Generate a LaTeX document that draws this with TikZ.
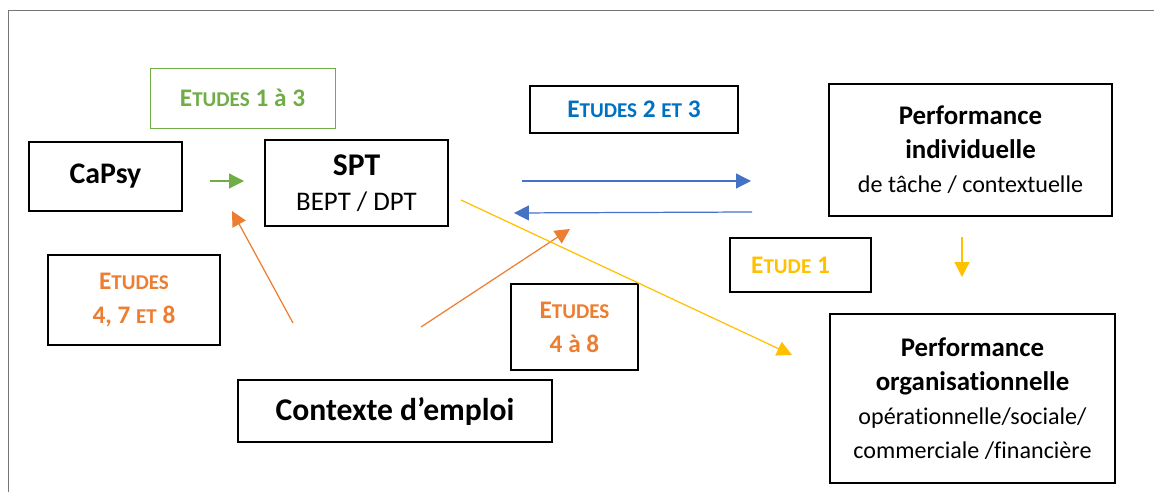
\documentclass[tikz,border=0pt]{standalone}
\usepackage{fontspec}
\setmainfont{Carlito}[Ligatures=NoCommon]
\usetikzlibrary{arrows.meta}
\definecolor{etgreen}{RGB}{112,173,71}
\definecolor{etblue}{RGB}{0,112,192}
\definecolor{arblue}{RGB}{68,114,196}
\definecolor{etorange}{RGB}{237,125,49}
\definecolor{etyellow}{RGB}{255,192,0}
\definecolor{framegray}{RGB}{118,118,118}
\newcommand{\titlefont}{\fontsize{15.3}{19.3}\selectfont\bfseries}
\newcommand{\etu}[1]{{\fontsize{12}{19.3}\selectfont #1}}
\begin{document}
\begin{tikzpicture}[
	x=0.02cm, y=-0.02cm,
	box/.style={shape=rectangle, draw=black, line width=0.8pt, align=center, inner sep=0pt, font=\fontsize{13.7}{19.3}\selectfont},
	studybox/.style={box, font=\fontsize{14.4}{19.3}\selectfont\bfseries},
	arr/.style={line width=0.7pt, -{Triangle[length=8.5pt, width=8.5pt]}},
]
\useasboundingbox (0,0) rectangle (1154,492);
\draw[framegray, line width=1.1pt] (1154,10.5) -- (8.5,10.5) -- (8.5,492);

\node[box, minimum width=3.06cm, minimum height=1.38cm, font=\fontsize{17}{19.3}\selectfont\bfseries] (capsy) at (105.5,176.5) {CaPsy};
\node[box, minimum width=3.66cm, minimum height=1.72cm, font=\fontsize{15.3}{19.8}\selectfont] (spt) at (356.5,183) {\fontsize{18}{19.8}\selectfont\bfseries SPT\\ BEPT / DPT};
\node[box, minimum width=5.66cm, minimum height=2.64cm] (perfind) at (970.5,150) {\titlefont Performance\\ \titlefont individuelle\\ de tâche / contextuelle};
\node[box, minimum width=5.7cm, minimum height=3.38cm] (perforg) at (972.5,398.5) {\titlefont Performance\\ \titlefont organisationnelle\\ opérationnelle/sociale/\\ commerciale /financière};
\node[box, minimum width=6.28cm, minimum height=1.24cm, font=\fontsize{18}{19.3}\selectfont\bfseries] (contexte) at (395,411) {Contexte d’emploi};

\node[studybox, draw=etgreen, line width=0.5pt, text=etgreen, minimum width=3.7cm, minimum height=1.2cm] (etudesA) at (242.5,98) {E\etu{TUDES} 1 à 3};
\node[studybox, text=etblue, minimum width=4.16cm, minimum height=0.94cm] (etudesB) at (634,109.5) {E\etu{TUDES} 2 \etu{ET} 3};
\node[studybox, text=etyellow, minimum width=2.82cm, minimum height=1.08cm] (etudesC) at (800.5,265) {E\etu{TUDE} 1\hspace{0.4cm}};
\node[studybox, text=etorange, minimum width=3.44cm, minimum height=1.8cm] (etudesD) at (134,300) {E\etu{TUDES}\\ 4, 7 \etu{ET} 8};
\node[studybox, text=etorange, minimum width=2.54cm, minimum height=1.72cm] (etudesE) at (574.5,327) {E\etu{TUDES}\\ 4 à 8};

\coordinate (gA) at (210,181);
\coordinate (gB) at (244,181);
\coordinate (bA) at (522,181);
\coordinate (bB) at (751,181);
\coordinate (bC) at (752,212);
\coordinate (bD) at (514,213);
\coordinate (oA) at (293,323);
\coordinate (oB) at (232,211);
\coordinate (oC) at (421,327);
\coordinate (oD) at (570,229);
\coordinate (yA) at (461,200);
\coordinate (yB) at (792,355);
\coordinate (yC) at (962,237);
\coordinate (yD) at (962,277);

\draw[arr, etgreen] (gA) -- (gB);
\draw[arr, arblue] (bA) -- (bB);
\draw[arr, arblue] (bC) -- (bD);
\draw[arr, etorange] (oA) -- (oB);
\draw[arr, etorange] (oC) -- (oD);
\draw[arr, etyellow] (yA) -- (yB);
\draw[arr, etyellow] (yC) -- (yD);
\end{tikzpicture}
\end{document}
